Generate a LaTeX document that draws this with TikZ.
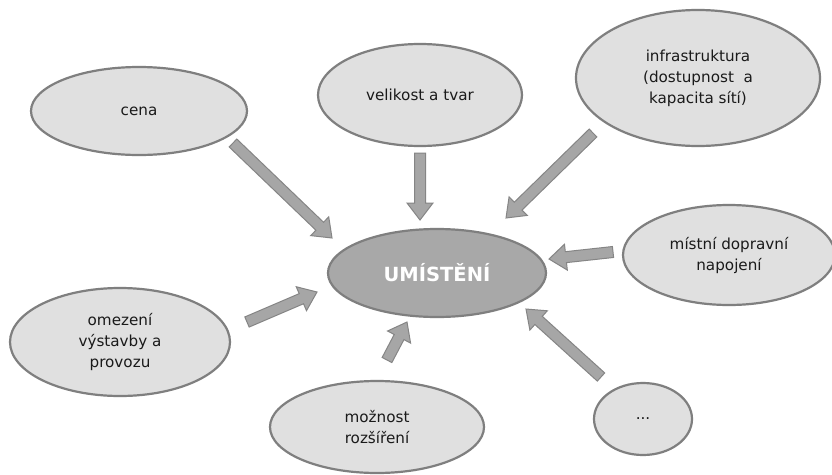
\documentclass[tikz,border=0pt]{standalone}
\usepackage{fontspec}
\setmainfont{DejaVu Sans}
\usetikzlibrary{shapes.geometric,calc}
\definecolor{ellfill}{HTML}{E0E0E0}
\definecolor{ellline}{HTML}{7F7F7F}
\definecolor{cenfill}{HTML}{A8A8A8}
\definecolor{arrfill}{HTML}{A6A6A6}
\definecolor{arrline}{HTML}{858585}
\definecolor{txt}{HTML}{1A1A1A}
\tikzset{
  ell/.style={ellipse, draw=ellline, fill=ellfill, line width=2.2pt, inner sep=0pt,
    align=center, text=txt, font=\fontsize{15.2}{21}\selectfont},
  cen/.style={ell, fill=cenfill, text=white, font=\fontsize{19.5}{22}\selectfont\bfseries},
  blk/.style={fill=arrfill, draw=arrline, line width=1pt, line join=miter}
}
\newcommand\blockarr[2]{%
  \path ($(#2)!17pt!(#1)$) coordinate (hb);
  \draw[blk] ($(#1)!5.5pt!90:(#2)$) -- ($(hb)!5.5pt!-90:(#1)$) -- ($(hb)!13pt!-90:(#1)$) -- (#2)
    -- ($(hb)!13pt!90:(#1)$) -- ($(hb)!5.5pt!90:(#1)$) -- ($(#1)!5.5pt!-90:(#2)$) -- cycle;
}
\begin{document}
\begin{tikzpicture}[x=1pt,y=-1pt]
\useasboundingbox[fill=white] (0,0) rectangle (832,474);
\node[ell, minimum width=216, minimum height=88] (cena) at (139,111) {cena};
\node[ell, minimum width=204, minimum height=102] (vel) at (420,95) {velikost a tvar};
\node[ell, minimum width=244, minimum height=136] (inf) at (698,78) {infrastruktura\\(dostupnost\ \ a\\kapacita sítí)};
\node[ell, minimum width=212, minimum height=100] (mis) at (729,255) {místní\ dopravní\\napojení};
\node[cen, minimum width=218, minimum height=88] (um) at (437,273) {UMÍSTĚNÍ};
\node[ell, minimum width=220, minimum height=108] (ome) at (120,342) {omezení\\výstavby a\\provozu};
\node[ell, minimum width=214, minimum height=92] (moz) at (377,427) {možnost\\rozšíření};
\node[ell, minimum width=98, minimum height=72] (dots) at (643,419) {...};

\coordinate (a1s) at (233,143); \coordinate (a1e) at (332,238);
\coordinate (a2s) at (420,153); \coordinate (a2e) at (420,220);
\coordinate (a3s) at (593,133); \coordinate (a3e) at (506,218);
\coordinate (a4s) at (613,252); \coordinate (a4e) at (549,259);
\coordinate (a5s) at (601,377); \coordinate (a5e) at (526,309);
\coordinate (a6s) at (387,360); \coordinate (a6e) at (407,322);
\coordinate (a7s) at (247,322); \coordinate (a7e) at (317,292);
\blockarr{a1s}{a1e}
\blockarr{a2s}{a2e}
\blockarr{a3s}{a3e}
\blockarr{a4s}{a4e}
\blockarr{a5s}{a5e}
\blockarr{a6s}{a6e}
\blockarr{a7s}{a7e}
\end{tikzpicture}
\end{document}
